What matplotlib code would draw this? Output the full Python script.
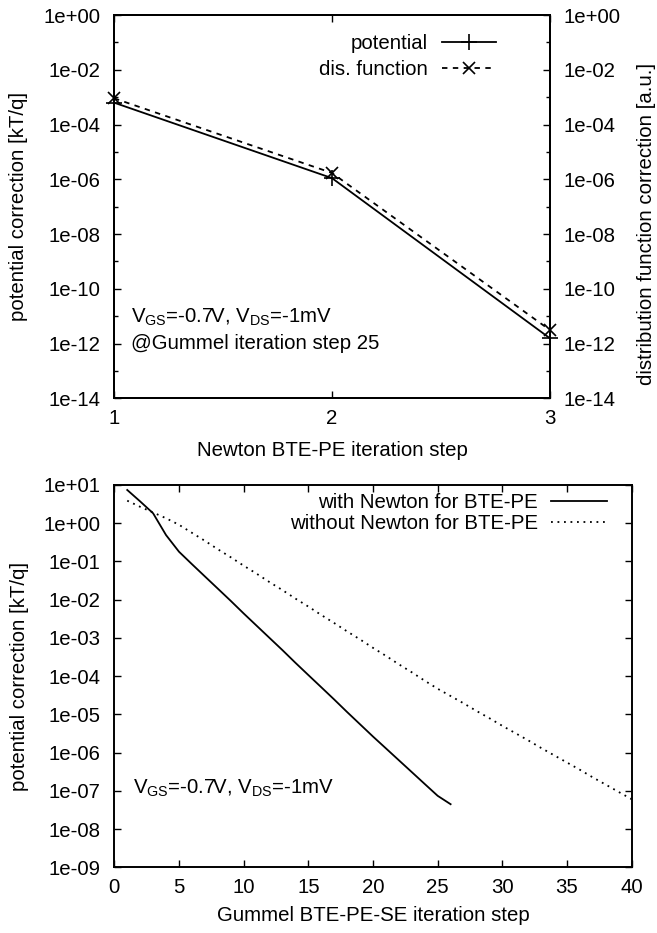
import matplotlib
matplotlib.use('Agg')
import matplotlib.pyplot as plt
from matplotlib.ticker import NullLocator, FixedLocator, NullFormatter

plt.rcParams['font.family'] = ['Liberation Sans', 'DejaVu Sans']
plt.rcParams['mathtext.fontset'] = 'custom'
plt.rcParams['mathtext.rm'] = 'Liberation Sans'
plt.rcParams['mathtext.it'] = 'Liberation Sans:italic'
plt.rcParams['mathtext.default'] = 'rm'

FS = 14.7

# ---------------- top panel data ----------------
newton_steps = [1, 2, 3]
potential_corr = [6.3e-4, 1.1e-6, 1.55e-12]
disfunc_corr = [9.1e-4, 1.7e-6, 3.1e-12]
top_xticks = [1, 2, 3]
top_yticks = [1e0, 1e-2, 1e-4, 1e-6, 1e-8, 1e-10, 1e-12, 1e-14]
top_yticklabels = ['1e+00', '1e-02', '1e-04', '1e-06', '1e-08', '1e-10', '1e-12', '1e-14']
top_yminor = [1e-1, 1e-3, 1e-5, 1e-7, 1e-9, 1e-11, 1e-13]

# ---------------- bottom panel data ----------------
steps_with = list(range(1, 27))
with_newton = [7.41, 3.72, 1.82, 0.490, 0.180, 0.0851, 0.0407, 0.0195, 9.33e-3, 4.37e-3,
               2.09e-3, 1.0e-3, 4.79e-4, 2.24e-4, 1.07e-4, 5.13e-5, 2.45e-5, 1.15e-5, 5.50e-6, 2.63e-6,
               1.29e-6, 6.31e-7, 3.09e-7, 1.51e-7, 7.41e-8, 4.47e-8]
steps_without = list(range(1, 41))
without_newton = [3.89, 2.69, 1.91, 1.35, 0.912, 0.562, 0.347, 0.209, 0.129, 0.0776,
                  0.0479, 0.0288, 0.0178, 0.0107, 6.61e-3, 3.98e-3, 2.45e-3, 1.48e-3, 9.12e-4, 5.50e-4,
                  3.39e-4, 2.04e-4, 1.26e-4, 7.59e-5, 4.68e-5, 3.02e-5, 1.95e-5, 1.23e-5, 7.94e-6, 5.01e-6,
                  3.24e-6, 2.09e-6, 1.32e-6, 8.51e-7, 5.50e-7, 3.55e-7, 2.24e-7, 1.45e-7, 9.33e-8, 6.03e-8]
bottom_xticks = [0, 5, 10, 15, 20, 25, 30, 35, 40]
bottom_yticks = [1e1, 1e0, 1e-1, 1e-2, 1e-3, 1e-4, 1e-5, 1e-6, 1e-7, 1e-8, 1e-9]
bottom_yticklabels = ['1e+01', '1e+00', '1e-01', '1e-02', '1e-03', '1e-04', '1e-05',
                      '1e-06', '1e-07', '1e-08', '1e-09']

W, H = 657, 933
fig = plt.figure(figsize=(W / 100, H / 100), dpi=100)


def style_axes(ax):
    for s in ax.spines.values():
        s.set_linewidth(1.4)
    ax.tick_params(which='major', direction='in', length=5, width=1.0, labelsize=FS)
    ax.tick_params(which='minor', direction='in', length=3, width=1.0)
    ax.tick_params(axis='y', which='both', pad=10)
    ax.tick_params(axis='x', which='both', pad=8)


# ================= TOP =================
ax1 = fig.add_axes([114 / W, 1 - 398.3 / H, 436 / W, 383.3 / H])
ax1.set_yscale('log')
ax1.set_xlim(1, 3)
ax1.set_ylim(1e-14, 1)
ax1.plot(newton_steps, potential_corr, color='black', lw=1.3, marker='+', ms=11, mew=1.2,
         label='potential', clip_on=False, zorder=5)
ax1.plot(newton_steps, disfunc_corr, color='black', lw=1.3, ls=(0, (3, 3)), marker='x', ms=8,
         mew=1.2, label='dis. function', clip_on=False, zorder=5)
ax1.set_xticks(top_xticks)
ax1.set_xticklabels([str(t) for t in top_xticks])
ax1.yaxis.set_major_locator(FixedLocator(top_yticks))
ax1.set_yticklabels(top_yticklabels)
ax1.yaxis.set_minor_locator(FixedLocator(top_yminor))
ax1.yaxis.set_minor_formatter(NullFormatter())
ax1.xaxis.set_minor_locator(NullLocator())
style_axes(ax1)
ax1.tick_params(axis='x', top=True)
ax1.tick_params(axis='y', which='both', right=False)
ax1.set_xlabel('Newton BTE-PE iteration step', fontsize=FS, labelpad=9)
ax1.set_ylabel('potential correction [kT/q]', fontsize=FS, va='center')
ax1.yaxis.set_label_coords((19 - 114) / 436, 0.5)

ax1r = ax1.twinx()
ax1r.set_yscale('log')
ax1r.set_ylim(1e-14, 1)
ax1r.yaxis.set_major_locator(FixedLocator(top_yticks))
ax1r.set_yticklabels(top_yticklabels)
ax1r.yaxis.set_minor_locator(FixedLocator(top_yminor))
ax1r.yaxis.set_minor_formatter(NullFormatter())
style_axes(ax1r)
ax1r.set_ylabel('distribution function correction [a.u.]', fontsize=FS, va='center', rotation=90)
ax1r.yaxis.set_label_coords((646 - 114) / 436, 0.455)
ax1r.set_zorder(ax1.get_zorder() - 1)
ax1.patch.set_visible(False)

ax1.legend(loc='upper right', bbox_to_anchor=((496 - 114) / 436, 0.950), frameon=False,
           markerfirst=False, fontsize=FS, handlelength=2.65, handletextpad=0.7,
           labelspacing=0.35, borderpad=0, borderaxespad=0, numpoints=1)

ax1.text(0.04, 0.1965, r'V$_{\rm GS}$=-0.7V, V$_{\rm DS}$=-1mV', transform=ax1.transAxes,
         fontsize=FS, va='baseline', ha='left')
ax1.text(0.04, 0.1286, '@Gummel iteration step 25', transform=ax1.transAxes,
         fontsize=FS, va='baseline', ha='left')

# ================= BOTTOM =================
ax2 = fig.add_axes([114.3 / W, 1 - 867.3 / H, 517.4 / W, 382.3 / H])
ax2.set_yscale('log')
ax2.set_xlim(0, 40)
ax2.set_ylim(1e-9, 1e1)
ax2.plot(steps_with, with_newton, color='black', lw=1.3, label='with Newton for BTE-PE')
ax2.plot(steps_without, without_newton, color='black', lw=1.3, ls=(0, (1, 2.6)),
         label='without Newton for BTE-PE')
ax2.set_xticks(bottom_xticks)
ax2.set_xticklabels([str(t) for t in bottom_xticks])
ax2.yaxis.set_major_locator(FixedLocator(bottom_yticks))
ax2.set_yticklabels(bottom_yticklabels)
ax2.yaxis.set_minor_locator(NullLocator())
ax2.xaxis.set_minor_locator(NullLocator())
style_axes(ax2)
ax2.tick_params(top=True, right=True)
ax2.set_xlabel('Gummel BTE-PE-SE iteration step', fontsize=FS, labelpad=6)
ax2.set_ylabel('potential correction [kT/q]', fontsize=FS, va='center')
ax2.yaxis.set_label_coords((19 - 114.3) / 517.4, 0.5)

ax2.legend(loc='upper right', bbox_to_anchor=((607 - 114.3) / 517.4, 0.980), frameon=False,
           markerfirst=False, fontsize=FS, handlelength=2.75, handletextpad=0.62,
           labelspacing=0.12, borderpad=0, borderaxespad=0, numpoints=1)

ax2.text(0.037, 0.1917, r'V$_{\rm GS}$=-0.7V, V$_{\rm DS}$=-1mV', transform=ax2.transAxes,
         fontsize=FS, va='baseline', ha='left')

fig.savefig('out.png', dpi=100)
